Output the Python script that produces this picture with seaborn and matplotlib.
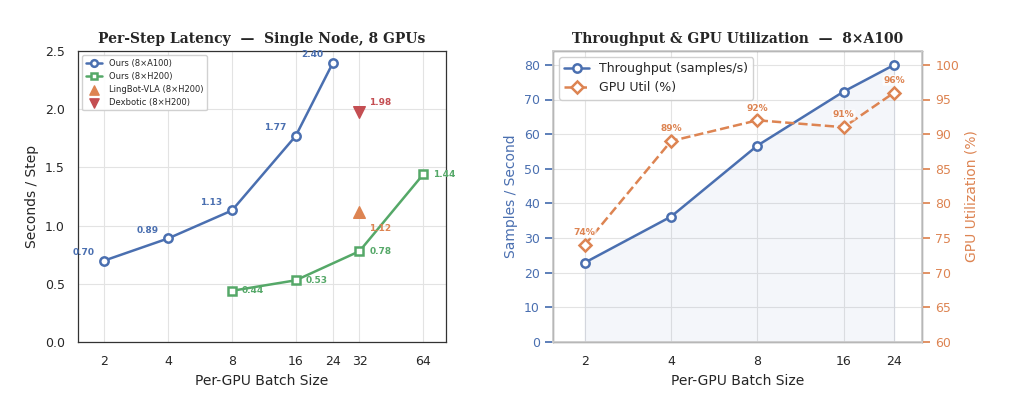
import matplotlib
matplotlib.use("Agg")
import matplotlib.pyplot as plt
import seaborn as sns
import pandas as pd

sns.set_theme(style="whitegrid")
plt.rcParams['font.family'] = ['DejaVu Sans']

bs_a100 = [2, 4, 8, 16, 24]
lat_a100 = [0.70, 0.89, 1.13, 1.77, 2.40]
bs_h200 = [8, 16, 32, 64]
lat_h200 = [0.44, 0.53, 0.78, 1.44]
lingbot_bs, lingbot_lat = [32], [1.12]
dex_bs, dex_lat = [32], [1.98]

tp_bs = [2, 4, 8, 16, 24]
throughput = [22.9, 36.2, 56.7, 72.3, 80.0]
gpu_util = [74, 89, 92, 91, 96]

BLUE, GREEN, ORANGE, RED = "#4a6fb0", "#55a868", "#dd8452", "#c44e52"

fig = plt.figure(figsize=(10.2, 4.04), dpi=100)
ax1 = fig.add_axes([78/1020, 1-342/404, 368/1020, 291/404])
ax2 = fig.add_axes([553/1020, 1-342/404, 369/1020, 291/404])

for ax in (ax1, ax2):
    for s in ax.spines.values():
        s.set_color("#333333"); s.set_linewidth(0.9)
    ax.grid(color="#e3e3e3", linewidth=0.8)

dfa = pd.DataFrame({"bs": bs_a100, "lat": lat_a100})
dfh = pd.DataFrame({"bs": bs_h200, "lat": lat_h200})
sns.lineplot(data=dfa, x="bs", y="lat", ax=ax1, color=BLUE, lw=1.8, marker="o", ms=6,
             mfc="white", mec=BLUE, mew=1.8, label="Ours (8×A100)")
sns.lineplot(data=dfh, x="bs", y="lat", ax=ax1, color=GREEN, lw=1.8, marker="s", ms=6,
             mfc="white", mec=GREEN, mew=1.8, label="Ours (8×H200)")
ax1.scatter(lingbot_bs, lingbot_lat, marker="^", s=70, color=ORANGE, label="LingBot-VLA (8×H200)", zorder=3)
ax1.scatter(dex_bs, dex_lat, marker="v", s=70, color=RED, label="Dexbotic (8×H200)", zorder=3)
ax1.set_xscale("log", base=2)
ax1.set_xticks([2, 4, 8, 16, 24, 32, 64])
ax1.set_xticklabels(["2", "4", "8", "16", "24", "32", "64"])
ax1.minorticks_off()
ax1.set_xlim(1.5, 82)
ax1.set_ylim(0, 2.5)
ax1.set_xlabel("Per-GPU Batch Size", fontsize=10)
ax1.set_ylabel("Seconds / Step", fontsize=10)
ax1.tick_params(labelsize=9)
ax1.set_title("Per-Step Latency  —  Single Node, 8 GPUs", fontsize=10, fontweight="bold",
              family="DejaVu Serif")
for x, y in zip(bs_a100, lat_a100):
    ax1.annotate(f"{y:.2f}", (x, y), xytext=(-7, 4), textcoords="offset points", ha="right",
                 fontsize=6.5, color=BLUE, fontweight="bold")
for x, y in zip(bs_h200, lat_h200):
    ax1.annotate(f"{y:.2f}", (x, y), xytext=(7, 0), textcoords="offset points", ha="left", va="center",
                 fontsize=6.5, color=GREEN, fontweight="bold")
ax1.annotate(f"{lingbot_lat[0]:.2f}", (lingbot_bs[0], lingbot_lat[0]), xytext=(7, -14), textcoords="offset points",
             fontsize=6.5, color=ORANGE, fontweight="bold")
ax1.annotate(f"{dex_lat[0]:.2f}", (dex_bs[0], dex_lat[0]), xytext=(7, 5), textcoords="offset points",
             fontsize=6.5, color=RED, fontweight="bold")
ax1.legend(loc="upper left", fontsize=6, frameon=True, framealpha=0.9, markerscale=0.8)

dft = pd.DataFrame({"bs": tp_bs, "tp": throughput, "util": gpu_util})
sns.lineplot(data=dft, x="bs", y="tp", ax=ax2, color=BLUE, lw=1.8, marker="o", ms=6,
             mfc="white", mec=BLUE, mew=1.8, label="Throughput (samples/s)", legend=False)
ax2.fill_between(tp_bs, throughput, color=BLUE, alpha=0.06)
ax2.set_xscale("log", base=2)
ax2.set_xticks(tp_bs)
ax2.set_xticklabels([str(b) for b in tp_bs])
ax2.minorticks_off()
ax2.set_xlim(1.55, 30)
ax2.set_ylim(0, 84)
ax2.set_yticks(range(0, 81, 10))
ax2.set_xlabel("Per-GPU Batch Size", fontsize=10)
ax2.set_ylabel("Samples / Second", fontsize=10, color=BLUE)
ax2.tick_params(axis="y", colors=BLUE, labelsize=9)
ax2.tick_params(axis="x", labelsize=9)
ax2.set_title("Throughput & GPU Utilization  —  8×A100", fontsize=10, fontweight="bold",
              family="DejaVu Serif")

ax3 = ax2.twinx()
sns.lineplot(data=dft, x="bs", y="util", ax=ax3, color=ORANGE, lw=1.8, ls="--", marker="D", ms=6,
             mfc="white", mec=ORANGE, mew=1.8, label="GPU Util (%)", legend=False)
ax3.set_ylim(60, 102)
ax3.set_yticks(range(60, 101, 5))
ax3.grid(False)
ax3.set_ylabel("GPU Utilization (%)", fontsize=10, color=ORANGE)
ax3.tick_params(axis="y", colors=ORANGE, labelsize=9)
for x, y in zip(tp_bs, gpu_util):
    ax3.annotate(f"{y}%", (x, y), xytext=(0, 7), textcoords="offset points", ha="center",
                 fontsize=6.5, color=ORANGE, fontweight="bold",
                 bbox=dict(boxstyle="round,pad=0.1", fc="white", ec="none", alpha=0.7))
ax3.annotate("", (0, 0))
h1, l1 = ax2.get_legend_handles_labels()
h2, l2 = ax3.get_legend_handles_labels()
ax2.legend(h1 + h2, l1 + l2, loc="upper left", fontsize=9, framealpha=0.9)

fig.savefig("out.png", dpi=100)
